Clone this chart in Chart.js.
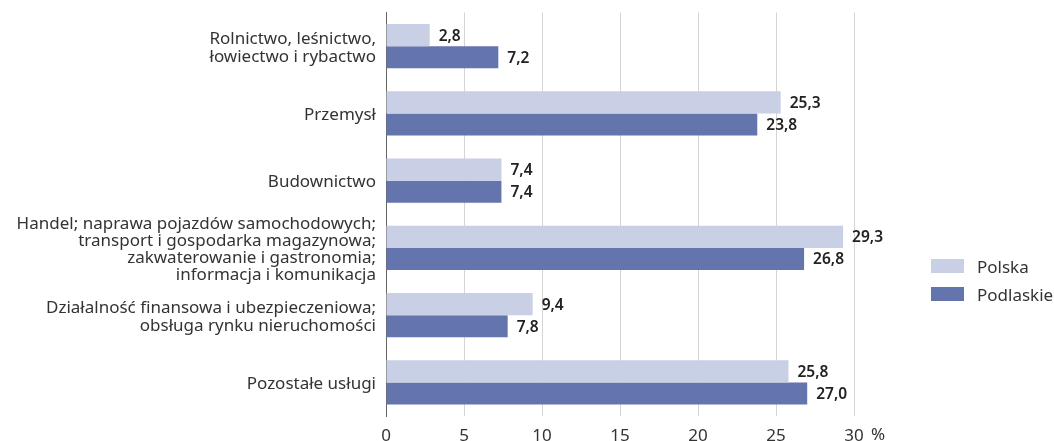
<!DOCTYPE html>
<html lang="pl">
<head>
<meta charset="utf-8">
<script src="https://cdn.jsdelivr.net/npm/chart.js@4/dist/chart.umd.min.js"></script>
<style>
  html, body { margin: 0; padding: 0; background: #fff; }
  .wrap { position: relative; width: 1054px; height: 441px; }
  canvas { display: block; }
  .legend { position: absolute; left: 931px; top: 252px; font: 17px "Noto Sans", sans-serif; color: #333; }
  .legend-item { display: flex; align-items: center; height: 28px; }
  .legend-box { width: 33px; height: 14px; margin-right: 13px; }
</style>
</head>
<body>
<div class="wrap">
  <canvas id="chart" width="1054" height="441"></canvas>
  <div class="legend" id="legend"></div>
</div>
<script>
const categories = [
  ['Rolnictwo, leśnictwo,', 'łowiectwo i rybactwo'],
  ['Przemysł'],
  ['Budownictwo'],
  ['Handel; naprawa pojazdów samochodowych;', 'transport i gospodarka magazynowa;', 'zakwaterowanie i gastronomia;', 'informacja i komunikacja'],
  ['Działalność finansowa i ubezpieczeniowa;', 'obsługa rynku nieruchomości'],
  ['Pozostałe usługi']
];
const polska    = [2.8, 25.3, 7.4, 29.3, 9.4, 25.8];
const podlaskie = [7.2, 23.8, 7.4, 26.8, 7.8, 27.0];
const seriesNames = ['Polska', 'Podlaskie'];
const xTicks = [0, 5, 10, 15, 20, 25, 30];

const COLORS = ['#c9cfe5', '#6475ad'];
const FONT = '"Noto Sans", sans-serif';

const fmt = v => v.toFixed(1).replace('.', ',');

// value labels at bar ends + "%" next to the last tick
const labelsPlugin = {
  id: 'barLabels',
  afterDatasetsDraw(chart) {
    const ctx = chart.ctx;
    ctx.save();
    ctx.font = '600 15.5px ' + FONT;
    ctx.fillStyle = '#222';
    ctx.textBaseline = 'middle';
    ctx.textAlign = 'left';
    chart.data.datasets.forEach((ds, i) => {
      chart.getDatasetMeta(i).data.forEach((bar, j) => {
        ctx.fillText(fmt(ds.data[j]), bar.x + 9, bar.y + 1);
      });
    });
    const xs = chart.scales.x;
    ctx.font = '17px ' + FONT;
    ctx.fillStyle = '#333';
    ctx.fillText('%', xs.getPixelForValue(30) + 17, 435);
    ctx.restore();
  }
};

new Chart(document.getElementById('chart'), {
  type: 'bar',
  data: {
    labels: categories,
    datasets: [
      { label: seriesNames[0], data: polska, backgroundColor: COLORS[0] },
      { label: seriesNames[1], data: podlaskie, backgroundColor: COLORS[1] }
    ]
  },
  options: {
    indexAxis: 'y',
    responsive: false,
    animation: false,
    categoryPercentage: 0.655,
    barPercentage: 1,
    layout: { padding: { top: 12.5, right: 200, bottom: 0, left: 0 } },
    plugins: { legend: { display: false }, tooltip: { enabled: false } },
    scales: {
      x: {
        min: 0, max: 30,
        afterBuildTicks: s => { s.ticks = xTicks.map(v => ({ value: v })); },
        afterFit: s => { s.height = 25; s.paddingLeft = 0; s.paddingRight = 0; },
        grid: { color: '#d4d4d4', drawTicks: false },
        border: { display: false },
        ticks: { padding: 10, color: '#333', font: { family: FONT, size: 17 } }
      },
      y: {
        afterFit: s => { s.width = 386; s.paddingTop = 0; s.paddingBottom = 0; },
        grid: { display: false, drawTicks: false },
        border: { color: '#666', width: 1 },
        ticks: { autoSkip: false, padding: 10, labelOffset: 2, color: '#333', font: { family: FONT, size: 17, lineHeight: 1.01 } }
      }
    }
  },
  plugins: [labelsPlugin]
});

document.getElementById('legend').innerHTML = seriesNames.map((n, i) =>
  `<div class="legend-item"><span class="legend-box" style="background:${COLORS[i]}"></span>${n}</div>`
).join('');
</script>
</body>
</html>
